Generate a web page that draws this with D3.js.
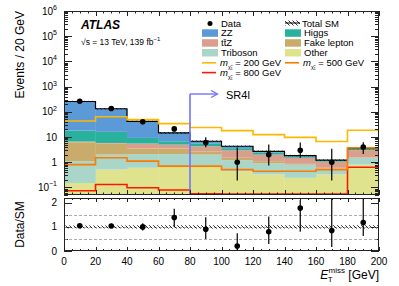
<!DOCTYPE html>
<html>
<head>
<meta charset="utf-8">
<script src="https://cdn.jsdelivr.net/npm/d3@7"></script>
<style>
  body { margin: 0; background: #fff; }
  text { font-family: "Liberation Sans", Arial, sans-serif; fill: #000; }
</style>
</head>
<body>
<div id="chart"></div>
<script>
// bins of E_T^miss [GeV]
const binEdges = [0, 20, 40, 60, 80, 100, 120, 140, 160, 180, 200]

// background components (events / bin), bottom of stack first
const other = [0.15, 0.51, 0.6, 0.7, 0.74, 0.44, 0.33, 0.24, 0.33, 0.8]
const triboson = [0.95, 1.49, 1.5, 1.4, 1.26, 0.76, 0.57, 0.56, 0.23, 0.7]
const fakeLepton = [5.1, 3.4, 1.4, 1.4, 0.7, 0.3, 0.2, 0.06, 0.04, 0.05]
const ttZ = [0.4, 0.4, 2.0, 1.5, 1.6, 1.5, 0.9, 0.64, 0.45, 1.45]
const higgs = [11.4, 10.2, 3.7, 1.8, 1.3, 0.6, 0.4, 0.2, 0.1, 0.35]
const zz = [239, 116, 32.8, 7.7, 1.2, 0.7, 0.3, 0.14, 0.05, 0.15]
const smRelUnc = [0.06, 0.06, 0.07, 0.07, 0.07, 0.07, 0.07, 0.07, 0.07, 0.07]

// signal models
const sig200 = [43, 64, 49, 34, 24, 18, 12.4, 9.7, 6.6, 18.5]
const sig500 = [0.8, 1.5, 1.1, 0.7, 0.7, 0.51, 0.44, 0.44, 0.51, 3.7]
const sig800 = [0.074, 0.13, 0.097, 0.079, 0.056, 0.055, 0.055, 0.055, 0.055, 0.63]

// data
const dataVals = [262, 136, 40, 21, 6, 1, 2, 3, 1, 4]
const dataLo = [246, 124, 34, 16.4, 3.9, 0.19, 0.74, 1.5, 0.19, 2.1]
const dataHi = [278, 148, 47, 26.8, 9.7, 3.8, 5.0, 6.0, 3.4, 6.2]

// ratio panel
const ratio = [1.05, 1.04, 1.0, 1.39, 0.9, 0.21, 0.8, 1.78, 0.85, 1.18]
const ratioLo = [0.99, 0.95, 0.85, 1.0, 0.5, 0.04, 0.29, 0.8, 0.17, 0.62]
const ratioHi = [1.11, 1.13, 1.15, 1.75, 1.4, 0.74, 1.43, 2.13, 2.5, 2.5]

const yTickLabels = [['10', '6'], ['10', '5'], ['10', '4'], ['10', '3'], ['10', '2'], ['10', ''], ['1', ''], ['10', '\u22121']]
const yTickVals = [1e6, 1e5, 1e4, 1e3, 1e2, 10, 1, 0.1]
const xTickVals = [0, 20, 40, 60, 80, 100, 120, 140, 160, 180, 200]
const ratioTickVals = [0, 1, 2]

const colors = {
  other: '#dfe38e',
  triboson: '#a9d6c9',
  fake: '#c9ab6c',
  ttZ: '#d99f8c',
  higgs: '#28b29e',
  zz: '#5b9ad6',
  s200: '#ffb800',
  s500: '#ff7a00',
  s800: '#ff1800',
  sr: '#7373ff',
}

const W = 399, H = 286
const L = 64, R = 379
const mainTop = 11, mainBot = 195
const ratTop = 198, ratBot = 251

const svg = d3.select('#chart').append('svg').attr('width', W).attr('height', H)

const defs = svg.append('defs')
defs.append('pattern')
  .attr('id', 'hatch')
  .attr('patternUnits', 'userSpaceOnUse')
  .attr('width', 4).attr('height', 4)
  .append('path')
  .attr('d', 'M-1,-1 L5,5 M-1,3 L1,5 M3,-1 L5,1')
  .attr('stroke', '#000').attr('stroke-width', 0.8)
defs.append('clipPath').attr('id', 'clipMain')
  .append('rect').attr('x', L).attr('y', mainTop).attr('width', R - L).attr('height', mainBot - mainTop)
defs.append('clipPath').attr('id', 'clipRat')
  .append('rect').attr('x', L).attr('y', ratTop).attr('width', R - L).attr('height', ratBot - ratTop)

// scales
const x = d3.scaleLinear().domain([0, 200]).range([L, R])
const y = d3.scaleLog().domain([0.05, 1e6]).range([mainBot, mainTop])
const yr = d3.scaleLinear().domain([0, 2.2]).range([ratBot, ratTop])

const nBins = dataVals.length
const bins = d3.range(nBins).map(i => ({
  i, lo: binEdges[i], hi: binEdges[i + 1], mid: (binEdges[i] + binEdges[i + 1]) / 2,
  other: other[i], triboson: triboson[i], fake: fakeLepton[i], ttZ: ttZ[i], higgs: higgs[i], zz: zz[i],
}))
const keys = ['other', 'triboson', 'fake', 'ttZ', 'higgs', 'zz']
const stack = d3.stack().keys(keys)(bins)
const total = bins.map(b => keys.reduce((s, k) => s + b[k], 0))

const main = svg.append('g').attr('clip-path', 'url(#clipMain)')

// stacked backgrounds
stack.forEach(layer => {
  main.append('g')
    .selectAll('rect')
    .data(layer)
    .enter()
    .append('rect')
    .attr('x', d => x(d.data.lo))
    .attr('width', d => x(d.data.hi) - x(d.data.lo) + 0.3)
    .attr('y', d => y(d[1]))
    .attr('height', d => y(Math.max(d[0], 0.05)) - y(d[1]))
    .attr('fill', colors[layer.key])
})

// SM uncertainty band
main.append('g')
  .selectAll('rect')
  .data(bins)
  .enter()
  .append('rect')
  .attr('x', d => x(d.lo))
  .attr('width', d => x(d.hi) - x(d.lo))
  .attr('y', d => y(total[d.i] * (1 + smRelUnc[d.i])))
  .attr('height', d => y(total[d.i] * (1 - smRelUnc[d.i])) - y(total[d.i] * (1 + smRelUnc[d.i])))
  .attr('fill', 'url(#hatch)')

const stepLine = vals => {
  const pts = vals.map((v, i) => [binEdges[i], v])
  pts.push([binEdges[nBins], vals[nBins - 1]])
  return d3.line().x(d => x(d[0])).y(d => y(d[1])).curve(d3.curveStepAfter)(pts)
}

main.append('path').attr('d', stepLine(total)).attr('fill', 'none').attr('stroke', '#000').attr('stroke-width', 1.2)

;[[sig800, colors.s800], [sig500, colors.s500], [sig200, colors.s200]].forEach(([vals, c]) => {
  main.append('path').attr('d', stepLine(vals)).attr('fill', 'none').attr('stroke', c).attr('stroke-width', 1.6)
})

// SR4l marker
main.append('line')
  .attr('x1', x(80)).attr('x2', x(80)).attr('y1', 94).attr('y2', mainBot)
  .attr('stroke', colors.sr).attr('stroke-width', 1.6)
main.append('line')
  .attr('x1', x(80)).attr('x2', x(80) + 27).attr('y1', 94).attr('y2', 94)
  .attr('stroke', colors.sr).attr('stroke-width', 1.4)
main.append('path')
  .attr('d', `M${x(80) + 21},90.5 L${x(80) + 27.5},94 L${x(80) + 21},97.5`)
  .attr('fill', 'none').attr('stroke', colors.sr).attr('stroke-width', 1.4)
svg.append('text').attr('x', 226).attr('y', 98.5).attr('font-size', 11).text('SR4l')

// data points
const dataG = svg.append('g').attr('clip-path', 'url(#clipMain)')
dataG.selectAll('line')
  .data(bins)
  .enter()
  .append('line')
  .attr('x1', d => x(d.mid)).attr('x2', d => x(d.mid))
  .attr('y1', d => y(dataLo[d.i])).attr('y2', d => y(dataHi[d.i]))
  .attr('stroke', '#000').attr('stroke-width', 1.2)
dataG.selectAll('circle')
  .data(bins)
  .enter()
  .append('circle')
  .attr('cx', d => x(d.mid)).attr('cy', d => y(dataVals[d.i]))
  .attr('r', 2.8).attr('fill', '#000')

// main frame + ticks
const axisCol = '#222'
const frame = (top, bot) => svg.append('rect')
  .attr('x', L + 0.5).attr('y', top + 0.5).attr('width', R - L - 1).attr('height', bot - top - 1)
  .attr('fill', 'none').attr('stroke', axisCol).attr('stroke-width', 1)
frame(mainTop, mainBot)

const ticks = svg.append('g').attr('stroke', axisCol).attr('stroke-width', 1)
for (let e = -2; e <= 5; e++) {
  for (let m = 1; m <= 9; m++) {
    const v = m * Math.pow(10, e)
    if (v < 0.05 || v > 1e6) continue
    const len = m === 1 ? 8 : 4
    const yy = Math.round(y(v)) + 0.5
    ticks.append('line').attr('x1', L).attr('x2', L + len).attr('y1', yy).attr('y2', yy)
    ticks.append('line').attr('x1', R).attr('x2', R - len).attr('y1', yy).attr('y2', yy)
  }
}
const xMinor = d3.range(0, 201, 5)
const xTick = (top, bot, big) => {
  xMinor.forEach(v => {
    const len = v % 20 === 0 ? big : big / 2
    const xx = Math.round(x(v)) + 0.5
    ticks.append('line').attr('x1', xx).attr('x2', xx).attr('y1', bot).attr('y2', bot - len)
    ticks.append('line').attr('x1', xx).attr('x2', xx).attr('y1', top).attr('y2', top + len)
  })
}
xTick(mainTop, mainBot, 5)

// y tick labels
yTickVals.forEach((v, k) => {
  const t = svg.append('text')
    .attr('x', 57).attr('y', y(v) + 3.5)
    .attr('text-anchor', 'end').attr('font-size', 10)
  t.append('tspan').text(yTickLabels[k][0])
  if (yTickLabels[k][1]) {
    t.append('tspan').attr('font-size', 7).attr('dy', -4.5).text(yTickLabels[k][1])
  }
})

// ratio panel
const rat = svg.append('g').attr('clip-path', 'url(#clipRat)')
;[0.5, 1, 1.5].forEach(v => {
  rat.append('line')
    .attr('x1', L).attr('x2', R).attr('y1', Math.round(yr(v)) + 0.5).attr('y2', Math.round(yr(v)) + 0.5)
    .attr('stroke', '#999').attr('stroke-width', 0.8).attr('stroke-dasharray', '3,2')
})
rat.selectAll('rect.unc')
  .data(bins)
  .enter()
  .append('rect')
  .attr('class', 'unc')
  .attr('x', d => x(d.lo))
  .attr('width', d => x(d.hi) - x(d.lo))
  .attr('y', d => yr(1 + smRelUnc[d.i]))
  .attr('height', d => yr(1 - smRelUnc[d.i]) - yr(1 + smRelUnc[d.i]))
  .attr('fill', 'url(#hatch)')
rat.selectAll('line.err')
  .data(bins)
  .enter()
  .append('line')
  .attr('class', 'err')
  .attr('x1', d => x(d.mid)).attr('x2', d => x(d.mid))
  .attr('y1', d => yr(ratioLo[d.i])).attr('y2', d => yr(ratioHi[d.i]))
  .attr('stroke', '#000').attr('stroke-width', 1.2)
rat.selectAll('circle')
  .data(bins)
  .enter()
  .append('circle')
  .attr('cx', d => x(d.mid)).attr('cy', d => yr(ratio[d.i]))
  .attr('r', 2.8).attr('fill', '#000')

frame(ratTop, ratBot)
xTick(ratTop, ratBot, 4)
;[0, 0.5, 1, 1.5, 2].forEach(v => {
  const len = Number.isInteger(v) ? 8 : 4
  const yy = Math.round(yr(v)) + 0.5
  ticks.append('line').attr('x1', L).attr('x2', L + len).attr('y1', yy).attr('y2', yy)
  ticks.append('line').attr('x1', R).attr('x2', R - len).attr('y1', yy).attr('y2', yy)
})
ratioTickVals.forEach(v => {
  svg.append('text').attr('x', 57).attr('y', yr(v) + 3.5)
    .attr('text-anchor', 'end').attr('font-size', 10).text(v)
})
xTickVals.forEach(v => {
  svg.append('text').attr('x', x(v)).attr('y', 264.5)
    .attr('text-anchor', 'middle').attr('font-size', 10).text(v)
})

// axis titles
svg.append('text')
  .attr('transform', 'translate(24,11) rotate(-90)')
  .attr('text-anchor', 'end').attr('font-size', 12)
  .text('Events / 20 GeV')
svg.append('text')
  .attr('transform', `translate(24,${(ratTop + ratBot) / 2}) rotate(-90)`)
  .attr('text-anchor', 'middle').attr('font-size', 12)
  .text('Data/SM')
const xt = svg.append('text').attr('x', R).attr('y', 279).attr('text-anchor', 'end').attr('font-size', 12)
xt.append('tspan').attr('font-style', 'italic').text('E')
xt.append('tspan').attr('font-size', 8).attr('dy', 3).attr('dx', -0.5).text('T')
xt.append('tspan').attr('font-size', 8).attr('dy', -9).attr('dx', -4).text('miss')
xt.append('tspan').attr('dy', 6).text(' [GeV]')

// ATLAS label
svg.append('text').attr('x', 81).attr('y', 29)
  .attr('font-size', 12).attr('font-weight', 'bold').attr('font-style', 'italic').text('ATLAS')
const lumi = svg.append('text').attr('x', 81).attr('y', 44.5).attr('font-size', 8.5)
lumi.append('tspan').text('\u221As = 13 TeV, 139 fb')
lumi.append('tspan').attr('font-size', 6).attr('dy', -3.5).text('\u22121')

// legend
const rowY = [26.5, 36.3, 46.2, 56, 65.8, 75.6]
const legend = svg.append('g').attr('font-size', 9.5)
const boxEntry = (col, row, color, label) => {
  const bx = col === 0 ? 202 : 285
  legend.append('rect').attr('x', bx).attr('y', rowY[row] - 7).attr('width', 16).attr('height', 7.5).attr('fill', color)
  legend.append('text').attr('x', bx + 19).attr('y', rowY[row]).text(label)
}
const lineEntry = (col, row, color, mass) => {
  const bx = col === 0 ? 202 : 285
  legend.append('line').attr('x1', bx).attr('x2', bx + 14).attr('y1', rowY[row] - 3).attr('y2', rowY[row] - 3)
    .attr('stroke', color).attr('stroke-width', 1.6)
  const t = legend.append('text').attr('x', bx + 18).attr('y', rowY[row])
  t.append('tspan').attr('font-style', 'italic').text('m')
  t.append('tspan').attr('font-size', 5.5).attr('dy', 3).text('\u03C7\u0303\u2081')
  t.append('tspan').attr('dy', -3).text(` = ${mass} GeV`)
}
legend.append('circle').attr('cx', 210).attr('cy', rowY[0] - 3).attr('r', 2.5).attr('fill', '#000')
legend.append('text').attr('x', 221).attr('y', rowY[0]).text('Data')
legend.append('rect').attr('x', 285).attr('y', rowY[0] - 6).attr('width', 15).attr('height', 5).attr('fill', 'url(#hatch)')
legend.append('line').attr('x1', 285).attr('x2', 300).attr('y1', rowY[0] - 3.5).attr('y2', rowY[0] - 3.5)
  .attr('stroke', '#000').attr('stroke-width', 1)
legend.append('text').attr('x', 302).attr('y', rowY[0]).text('Total SM')
boxEntry(0, 1, colors.zz, 'ZZ')
boxEntry(1, 1, colors.higgs, 'Higgs')
boxEntry(0, 2, colors.ttZ, 'tt\u0304Z')
boxEntry(1, 2, colors.fake, 'Fake lepton')
boxEntry(0, 3, colors.triboson, 'Triboson')
boxEntry(1, 3, colors.other, 'Other')
lineEntry(0, 4, colors.s200, 200)
lineEntry(1, 4, colors.s500, 500)
lineEntry(0, 5, colors.s800, 800)
</script>
</body>
</html>
